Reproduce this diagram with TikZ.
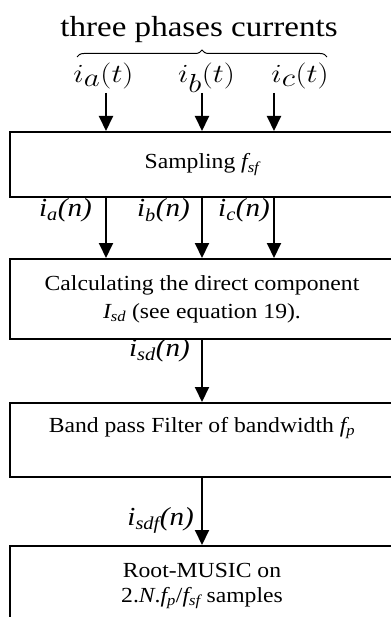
\documentclass[tikz,border=0pt]{standalone}
\usepackage{fontspec}
\usepackage{graphicx}
\setmainfont{Liberation Serif}[FakeStretch=1.1]
\newfontfamily\lblfont{Liberation Serif}[FakeStretch=1.12]
\newfontfamily\ttlfont{Liberation Serif}[FakeStretch=1.14]
\usetikzlibrary{arrows.meta,decorations.pathreplacing}

\begin{document}
\begin{tikzpicture}[x=1pt,y=-1pt,
    blk/.style={draw,line width=2pt,minimum width=384pt,inner sep=0pt,anchor=north,align=center,font=\fontsize{21.5}{25}\selectfont},
    arr/.style={line width=2pt,-{Triangle[length=15pt,width=14pt]}},
    sig/.style={inner sep=0pt,anchor=base east,font=\lblfont\fontsize{26}{28}\selectfont\itshape},
    inp/.style={inner sep=0pt,anchor=base,font=\fontsize{24.88}{30}\selectfont}]
  \useasboundingbox (0,0) rectangle (390,617);
  \node[inner sep=0pt,anchor=base,font=\ttlfont\fontsize{29}{32}\selectfont] (ttl) at (199,37) {three phases currents};
  \draw[line width=1pt,decorate,decoration={brace,amplitude=7pt}] (77,57) -- (327,57);
  \node[inp] (iat) at (103.5,83) {\scalebox{1.25}[1.05]{$i_{\textstyle a}(t)$}};
  \node[inp] (ibt) at (206.5,83) {\scalebox{1.25}[1.05]{$i_{\textstyle b}(t)$}};
  \node[inp] (ict) at (300,83) {\scalebox{1.25}[1.05]{$i_{\textstyle c}(t)$}};
  \coordinate (ca) at (106,93);
  \coordinate (cb) at (202,93);
  \coordinate (cc) at (274,93);
  \node[blk,minimum height=65pt] (smp) at (202,131) {Sampling \textit{f\textsubscript{sf}}};
  \node[blk,minimum height=80pt] (cdc) at (202,258) {Calculating the direct component\\[3pt]\textit{I\textsubscript{sd}} (see equation 19).};
  \node[blk,minimum height=74pt] (bpf) at (202,402) {Band pass Filter of bandwidth \textit{f\textsubscript{p}}\\[5pt]\mbox{}};
  \node[blk,minimum height=80pt] (rms) at (202,545) {Root-MUSIC on\\2.\textit{N}.\textit{f\textsubscript{p}}/\textit{f\textsubscript{sf}} samples};
  \foreach \c in {ca,cb,cc} \draw[arr] (\c) -- (\c |- smp.north);
  \foreach \c in {ca,cb,cc} \draw[arr] (\c |- smp.south) -- (\c |- cdc.north);
  \draw[arr] (cb |- cdc.south) -- (cb |- bpf.north);
  \draw[arr] (cb |- bpf.south) -- (cb |- rms.north);
  \node[sig] (ian) at (92,217) {i\textsubscript{a}(n)};
  \node[sig] (ibn) at (190,217) {i\textsubscript{b}(n)};
  \node[sig] (icn) at (270,217) {i\textsubscript{c}(n)};
  \node[sig] (isd) at (190,356) {i\textsubscript{sd}(n)};
  \node[sig] (isf) at (194,525) {i\textsubscript{sdf}(n)};
\end{tikzpicture}
\end{document}
